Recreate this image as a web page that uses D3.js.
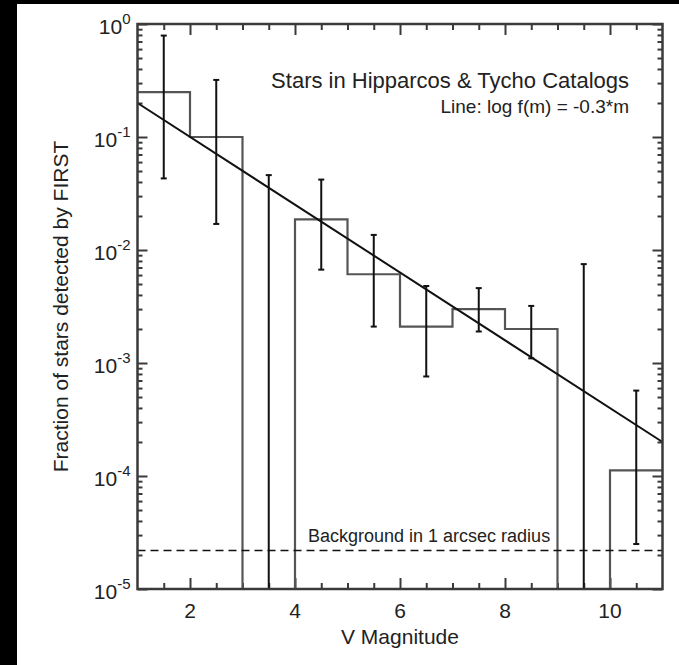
<!DOCTYPE html>
<html>
<head>
<meta charset="utf-8">
<script src="https://cdn.jsdelivr.net/npm/d3@7"></script>
<style>
  html, body { margin: 0; padding: 0; overflow: hidden; background: #fff; }
  svg { display: block; }
  text { font-family: "Liberation Sans", Arial, Helvetica, sans-serif; fill: #222; }
</style>
</head>
<body>
<div id="chart"></div>
<script>
// histogram bins (V magnitude edges) and fraction detected; 0 = below the axis
const binEdges = [1, 2, 3, 4, 5, 6, 7, 8, 9, 10, 11];
const binValues = [0.25, 0.1, 0, 0.0187, 0.0061, 0.0021, 0.0030, 0.0020, 0, 0.000112];

// error bars at bin centres
const errMag = [1.5, 2.5, 3.5, 4.5, 5.5, 6.5, 7.5, 8.5, 9.5, 10.5];
const errHigh = [0.79, 0.32, 0.046, 0.042, 0.0136, 0.0048, 0.0046, 0.0032, 0.0075, 0.00057];
const errLow = [0.043, 0.017, 0, 0.0067, 0.0021, 0.00076, 0.0019, 0.0011, 0, 0.000025];

// fitted line  log f(m) = -0.3*m (+ offset)
const fitMag = [1, 11];
const fitFrac = [0.2, 0.0002];

// background level
const backgroundLevel = 0.0000219;

const xMajor = [2, 4, 6, 8, 10];
const xMinor = [1.5, 2.5, 3, 3.5, 4.5, 5, 5.5, 6.5, 7, 7.5, 8.5, 9, 9.5, 10.5];
const yMajor = [1, 0.1, 0.01, 0.001, 0.0001, 0.00001];
const yExponents = ['0', '-1', '-2', '-3', '-4', '-5'];

drawChart();

function drawChart() {
    const width = 679, height = 665;
    const margin = { top: 24, right: 16.5, bottom: 76, left: 137.5 };

    const svg = d3.select('#chart').append('svg')
        .attr('width', width)
        .attr('height', height);

    // white page, black strips on the left and top edges
    svg.append('rect').attr('width', width).attr('height', height).attr('fill', '#fff');
    svg.append('rect').attr('x', 0).attr('y', 0).attr('width', 17).attr('height', height).attr('fill', '#000');
    svg.append('rect').attr('x', 0).attr('y', 0).attr('width', width).attr('height', 4).attr('fill', '#000');

    const x = d3.scaleLinear().domain([1, 11]).range([margin.left, width - margin.right]);
    const y = d3.scaleLog().domain([1e-5, 1]).range([height - margin.bottom, margin.top]).clamp(true);
    const yv = v => v > 0 ? y(v) : y.range()[0];

    const x0 = x.range()[0], x1 = x.range()[1];
    const y0 = y.range()[0], y1 = y.range()[1];

    // minor y ticks per decade
    const yMinor = [];
    for (let e = -5; e < 0; e++) {
        for (let k = 2; k <= 9; k++) yMinor.push(k * Math.pow(10, e));
    }

    const axisColor = '#3a3a3a';
    const axes = svg.append('g').attr('class', 'axes');

    function styleAxis(g) {
        g.select('.domain').remove();
        g.selectAll('.tick line').attr('stroke', axisColor).attr('stroke-width', 2);
        g.selectAll('.tick text').remove();
    }

    // bottom
    axes.append('g').attr('transform', `translate(0,${y0})`)
        .call(d3.axisBottom(x).tickValues(xMajor).tickSize(-11)).call(styleAxis);
    axes.append('g').attr('transform', `translate(0,${y0})`)
        .call(d3.axisBottom(x).tickValues(xMinor).tickSize(-6)).call(styleAxis);
    // top
    axes.append('g').attr('transform', `translate(0,${y1})`)
        .call(d3.axisTop(x).tickValues(xMajor).tickSize(-11)).call(styleAxis);
    axes.append('g').attr('transform', `translate(0,${y1})`)
        .call(d3.axisTop(x).tickValues(xMinor).tickSize(-6)).call(styleAxis);
    // left
    axes.append('g').attr('transform', `translate(${x0},0)`)
        .call(d3.axisLeft(y).tickValues(yMajor).tickSize(-10)).call(styleAxis);
    axes.append('g').attr('transform', `translate(${x0},0)`)
        .call(d3.axisLeft(y).tickValues(yMinor).tickSize(-5)).call(styleAxis);
    // right
    axes.append('g').attr('transform', `translate(${x1},0)`)
        .call(d3.axisRight(y).tickValues(yMajor).tickSize(-10)).call(styleAxis);
    axes.append('g').attr('transform', `translate(${x1},0)`)
        .call(d3.axisRight(y).tickValues(yMinor).tickSize(-5)).call(styleAxis);

    // x tick labels
    svg.append('g').selectAll('text')
        .data(xMajor)
        .join('text')
        .attr('x', d => x(d))
        .attr('y', y0 + 29)
        .attr('text-anchor', 'middle')
        .style('font-size', '21px')
        .text(d => d);

    // y tick labels 10^n
    const yLab = svg.append('g').selectAll('text')
        .data(yMajor)
        .join('text')
        .attr('x', x0 - 7)
        .attr('y', d => y(d) + 10)
        .attr('text-anchor', 'end')
        .style('font-size', '21px');
    yLab.append('tspan').text('10');
    yLab.append('tspan')
        .attr('dy', -10)
        .style('font-size', '15px')
        .text((d, i) => yExponents[i]);

    // axis titles
    svg.append('text')
        .attr('x', (x0 + x1) / 2)
        .attr('y', 644)
        .attr('text-anchor', 'middle')
        .style('font-size', '21px')
        .text('V Magnitude');

    svg.append('text')
        .attr('transform', `translate(68,${(y0 + y1) / 2}) rotate(-90)`)
        .attr('text-anchor', 'middle')
        .style('font-size', '21px')
        .text('Fraction of stars detected by FIRST');

    // histogram as a step line
    const steps = [];
    binValues.forEach(function(v, i) {
        steps.push([binEdges[i], v]);
        steps.push([binEdges[i + 1], v]);
    });
    const stepLine = d3.line().x(d => x(d[0])).y(d => yv(d[1]));
    svg.append('path')
        .datum(steps)
        .attr('d', stepLine)
        .attr('fill', 'none')
        .attr('stroke', '#555')
        .attr('stroke-width', 2.2);

    // background dashed line
    svg.append('line')
        .attr('x1', x0).attr('x2', x1)
        .attr('y1', y(backgroundLevel)).attr('y2', y(backgroundLevel))
        .attr('stroke', '#111')
        .attr('stroke-width', 1.6)
        .attr('stroke-dasharray', '8,5');

    svg.append('text')
        .attr('x', 308)
        .attr('y', y(backgroundLevel) - 9)
        .style('font-size', '18px')
        .text('Background in 1 arcsec radius');

    // fit line
    svg.append('path')
        .datum(fitMag.map((m, i) => [m, fitFrac[i]]))
        .attr('d', stepLine)
        .attr('fill', 'none')
        .attr('stroke', '#111')
        .attr('stroke-width', 2);

    // error bars
    const eb = svg.append('g').selectAll('g')
        .data(errMag.map((m, i) => ({ m: m, hi: errHigh[i], lo: errLow[i] })))
        .join('g');
    eb.append('line')
        .attr('x1', d => x(d.m)).attr('x2', d => x(d.m))
        .attr('y1', d => yv(d.hi)).attr('y2', d => yv(d.lo))
        .attr('stroke', '#111').attr('stroke-width', 2);
    eb.append('line')
        .attr('x1', d => x(d.m) - 3).attr('x2', d => x(d.m) + 3)
        .attr('y1', d => yv(d.hi)).attr('y2', d => yv(d.hi))
        .attr('stroke', '#111').attr('stroke-width', 2);
    eb.filter(d => d.lo > 0).append('line')
        .attr('x1', d => x(d.m) - 3).attr('x2', d => x(d.m) + 3)
        .attr('y1', d => yv(d.lo)).attr('y2', d => yv(d.lo))
        .attr('stroke', '#111').attr('stroke-width', 2);

    // frame
    svg.append('rect')
        .attr('x', x0).attr('y', y1)
        .attr('width', x1 - x0).attr('height', y0 - y1)
        .attr('fill', 'none')
        .attr('stroke', axisColor)
        .attr('stroke-width', 2.5);

    // annotations
    svg.append('text')
        .attr('x', 629).attr('y', 88)
        .attr('text-anchor', 'end')
        .style('font-size', '22px')
        .text('Stars in Hipparcos & Tycho Catalogs');
    svg.append('text')
        .attr('x', 629).attr('y', 113)
        .attr('text-anchor', 'end')
        .style('font-size', '19px')
        .text('Line: log f(m) = -0.3*m');
}
</script>
</body>
</html>
